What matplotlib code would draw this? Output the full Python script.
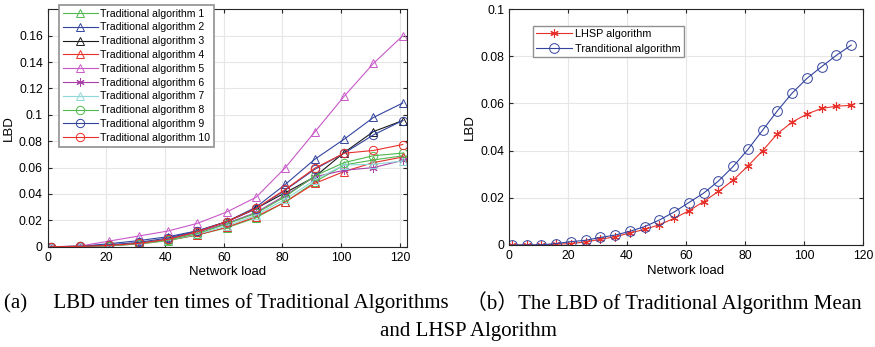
import matplotlib.pyplot as plt
import numpy as np

plt.rcParams['font.family'] = ['Liberation Sans', 'DejaVu Sans']

# left panel: ten runs of the traditional algorithm
load_a = [1, 11, 21, 31, 41, 51, 61, 71, 81, 91, 101, 111, 121]
trad1 = [0, 0.0003, 0.0008, 0.002, 0.0046, 0.0089, 0.0144, 0.022, 0.034, 0.049, 0.062, 0.0658, 0.0689]
trad2 = [0, 0.0003, 0.0023, 0.0046, 0.0076, 0.012, 0.019, 0.030, 0.0473, 0.0663, 0.0815, 0.098, 0.109]
trad3 = [0, 0.0002, 0.001, 0.0025, 0.0056, 0.0114, 0.019, 0.029, 0.041, 0.053, 0.0714, 0.0873, 0.0957]
trad4 = [0, 0.0002, 0.0008, 0.0022, 0.005, 0.0089, 0.0147, 0.0228, 0.034, 0.048, 0.057, 0.0638, 0.068]
trad5 = [0, 0.0005, 0.0043, 0.0081, 0.0119, 0.0177, 0.0263, 0.0375, 0.060, 0.087, 0.114, 0.139, 0.160]
trad6 = [0, 0.0002, 0.001, 0.0025, 0.0056, 0.0109, 0.0177, 0.026, 0.039, 0.053, 0.058, 0.060, 0.0655]
trad7 = [0, 0.0002, 0.0008, 0.0022, 0.005, 0.0094, 0.0157, 0.024, 0.036, 0.0506, 0.062, 0.0625, 0.065]
trad8 = [0, 0.0002, 0.0008, 0.0023, 0.005, 0.010, 0.0172, 0.0253, 0.038, 0.0537, 0.0638, 0.069, 0.071]
trad9 = [0, 0.0003, 0.0015, 0.0033, 0.0066, 0.012, 0.019, 0.0286, 0.043, 0.0587, 0.0709, 0.0848, 0.0957]
trad10 = [0, 0.0002, 0.001, 0.0025, 0.0056, 0.0114, 0.019, 0.029, 0.0435, 0.0595, 0.0709, 0.073, 0.0775]

# right panel: LHSP vs mean of traditional
load_b = [1, 6, 11, 16, 21, 26, 31, 36, 41, 46, 51, 56, 61, 66, 71, 76, 81, 86, 91, 96, 101, 106, 111, 116]
lhsp = [0, 0, 0, 0.0003, 0.0006, 0.0013, 0.0024, 0.0035, 0.0051, 0.0066, 0.0086, 0.0113, 0.0145, 0.0184,
        0.0227, 0.0275, 0.0335, 0.040, 0.0472, 0.0521, 0.0555, 0.0579, 0.0588, 0.0592]
trad_mean = [0, 0, 0.0001, 0.0006, 0.0014, 0.002, 0.0032, 0.0042, 0.0058, 0.0078, 0.0106, 0.014, 0.018, 0.022,
             0.0271, 0.0333, 0.0405, 0.0487, 0.0569, 0.0644, 0.0706, 0.0756, 0.0804, 0.0847]

green = '#4fb84f'
blue = '#33449e'
red = '#e8302a'
magenta = '#c858c8'
cyan = '#8ed8d8'
aster = (6, 2, 0)

series = [
    (trad1, green, '^', 'Traditional algorithm 1'),
    (trad2, blue, '^', 'Traditional algorithm 2'),
    (trad3, '#1a1a1a', '^', 'Traditional algorithm 3'),
    (trad4, red, '^', 'Traditional algorithm 4'),
    (trad5, magenta, '^', 'Traditional algorithm 5'),
    (trad6, '#a840a8', aster, 'Traditional algorithm 6'),
    (trad7, cyan, '^', 'Traditional algorithm 7'),
    (trad8, green, 'o', 'Traditional algorithm 8'),
    (trad9, blue, 'o', 'Traditional algorithm 9'),
    (trad10, red, 'o', 'Traditional algorithm 10'),
]

fig = plt.figure(figsize=(8.75, 3.47), dpi=100)
ax1 = fig.add_axes([0.0545, 0.289, 0.4105, 0.684])
ax2 = fig.add_axes([0.5817, 0.294, 0.4046, 0.680])


def style(ax):
    ax.grid(True, color='#e6e6e6', linewidth=0.8)
    ax.set_axisbelow(True)
    ax.tick_params(direction='in', length=3, labelsize=8.8, top=True, right=True,
                   labeltop=False, labelright=False, color='#262626')
    for s in ax.spines.values():
        s.set_color('#262626')
        s.set_linewidth(0.8)
    ax.yaxis.set_major_formatter(plt.FormatStrFormatter('%g'))
    ax.set_xlabel('Network load', fontsize=9.5, labelpad=2)
    ax.set_ylabel('LBD', fontsize=9.5, labelpad=3)


for vals, col, mk, lab in series:
    ax1.plot(load_a, vals, color=col, marker=mk, markersize=6, markerfacecolor='none',
             markeredgewidth=0.7, linewidth=0.8, label=lab)
ax1.set_xlim(0, 122.4)
ax1.set_ylim(0, 0.18)
ax1.set_xticks(np.arange(0, 121, 20))
ax1.set_yticks(np.arange(0, 0.161, 0.02))
style(ax1)
leg1 = ax1.legend(loc='upper left', bbox_to_anchor=(59 / 875, 1 - 5 / 347), bbox_transform=fig.transFigure,
                  fontsize=7.6, handlelength=3.3, labelspacing=0.36, borderpad=0.35, handletextpad=0.25,
                  borderaxespad=0, fancybox=False, framealpha=1, edgecolor='#909090')
leg1.get_frame().set_linewidth(1.2)

ax2.plot(load_b, lhsp, color=red, marker=aster, markersize=6, markeredgewidth=0.8,
         linewidth=0.8, label='LHSP algorithm')
ax2.plot(load_b, trad_mean, color=blue, marker='o', markersize=7, markerfacecolor='none',
         markeredgewidth=0.7, linewidth=0.8, label='Tranditional algorithm')
ax2.set_xlim(0, 120)
ax2.set_ylim(0, 0.1)
ax2.set_xticks(np.arange(0, 121, 20))
ax2.set_yticks(np.arange(0, 0.101, 0.02))
style(ax2)
leg2 = ax2.legend(loc='upper left', bbox_to_anchor=(533 / 875, 1 - 26 / 347), bbox_transform=fig.transFigure,
                  fontsize=7.8, handlelength=3.3, labelspacing=0.45, borderpad=0.3, handletextpad=0.3,
                  borderaxespad=0, fancybox=False, framealpha=1, edgecolor='#909090')
leg2.get_frame().set_linewidth(1.0)

cap = ['Liberation Serif', 'Noto Sans CJK SC']
fig.text(0.004, 0.127, '(a)     LBD under ten times of Traditional Algorithms', family=cap, fontsize=15,
         va='center', ha='left')
fig.text(0.533, 0.127, '（b）The LBD of Traditional Algorithm Mean', family=cap, fontsize=15,
         va='center', ha='left')
fig.text(0.535, 0.046, 'and LHSP Algorithm', family=cap, fontsize=15, va='center', ha='center')

fig.savefig('out.png', dpi=100)
